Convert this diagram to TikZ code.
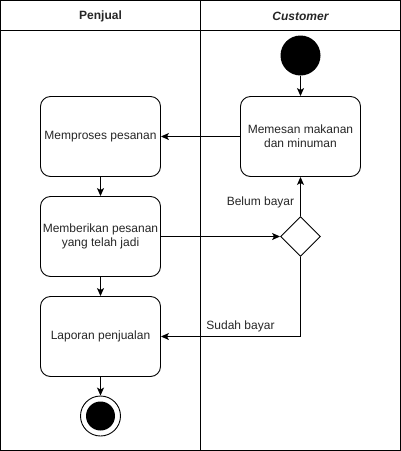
\documentclass[tikz,border=0pt]{standalone}
\usepackage{fontspec}
\setmainfont{Liberation Sans}
\usetikzlibrary{arrows.meta,shapes.geometric}
\begin{document}
\begin{tikzpicture}[x=1pt,y=-1pt,
  every node/.style={font=\fontsize{12}{14}\selectfont, text=black!85},
  act/.style={draw, rounded corners=10pt, minimum width=120pt, minimum height=80pt, align=center, inner sep=0pt, line width=0.9pt},
  dec/.style={draw, diamond, minimum width=40pt, minimum height=40pt, inner sep=0pt, aspect=1, line width=0.9pt},
  startst/.style={circle, fill=black, minimum size=40pt, inner sep=0pt},
  endst/.style={circle, draw, line width=0.9pt, minimum size=40pt, inner sep=0pt, path picture={\fill[black] (path picture bounding box.center) circle (14.5pt);}},
  flow/.style={draw, line width=0.9pt, -{Stealth[length=8pt,width=7pt,inset=2pt]}},
  lbl/.style={inner sep=0pt}]
\useasboundingbox (0,0) rectangle (401,451);
\draw[line width=0.9pt] (0.5,0.5) rectangle (400.5,450.5);
\draw[line width=0.9pt] (0.5,30.5) -- (400.5,30.5);
\draw[line width=0.9pt] (200.5,0.5) -- (200.5,450.5);
\node[font=\fontsize{12}{14}\selectfont\bfseries] (h1) at (100.5,16) {Penjual};
\node[font=\fontsize{12}{14}\selectfont\bfseries\itshape] (h2) at (300.5,16) {Customer};
\node[startst] (start) at (300.5,55.5) {};
\node[act] (pesan) at (300.5,136.5) {Memesan makanan\\dan minuman};
\node[act] (proses) at (100.5,136.5) {Memproses pesanan};
\node[act] (beri) at (100.5,236.5) {Memberikan pesanan\\yang telah jadi};
\node[act] (lapor) at (100.5,336.5) {Laporan penjualan};
\node[dec] (d) at (300.5,236.5) {};
\node[endst] (end) at (100.5,416) {};
\coordinate (c1) at (300.5,336.5);
\draw[flow] (start) -- (pesan);
\draw[flow] (pesan) -- (proses);
\draw[flow] (proses) -- (beri);
\draw[flow] (beri) -- (lapor);
\draw[flow] (beri) -- (d);
\draw[flow] (d.north) -- (pesan);
\draw[flow] (d.south) -- (c1) -- (lapor);
\draw[flow] (lapor) -- (end);
\node[lbl] (l1) at (260.5,202.5) {Belum bayar};
\node[lbl] (l2) at (240.5,326.5) {Sudah bayar};
\end{tikzpicture}
\end{document}
